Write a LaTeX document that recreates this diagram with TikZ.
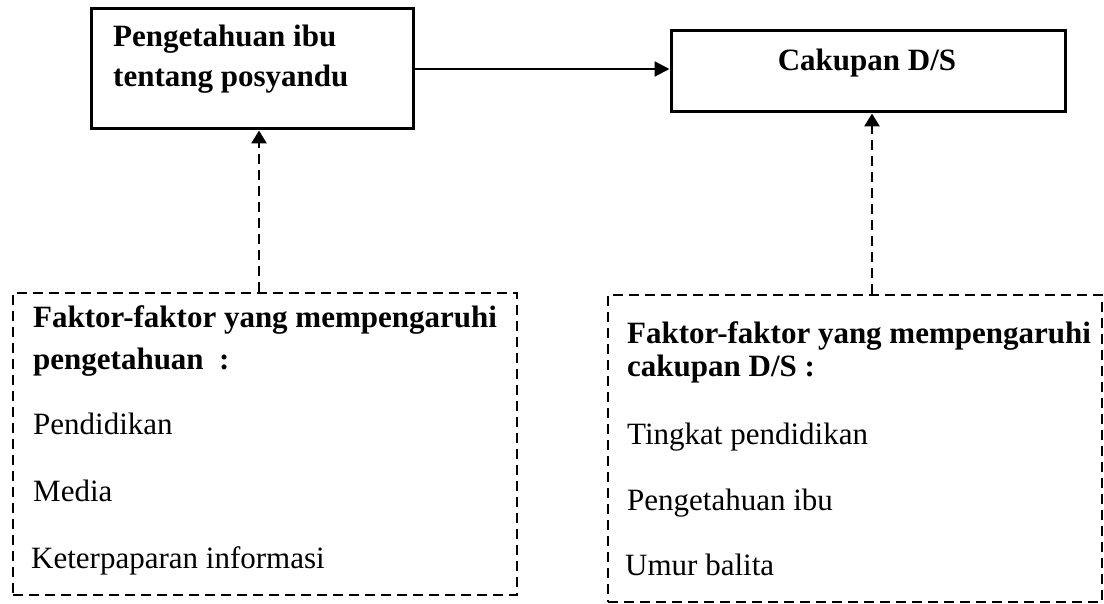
\documentclass[tikz,border=0pt]{standalone}
\usepackage{fontspec}
\setmainfont{Liberation Serif}
\usetikzlibrary{arrows.meta}
\begin{document}
\begin{tikzpicture}[x=1pt,y=-1pt,
  solidbox/.style={draw=black,line width=3pt,inner sep=0pt},
  dashbox/.style={draw=black,line width=2.8pt,dash pattern=on 10pt off 6pt,inner sep=0pt},
  txt/.style={anchor=base west,inner sep=0pt,font=\fontsize{31}{37}\selectfont},
  btxt/.style={txt,font=\fontsize{31}{37}\selectfont\bfseries},
  solidarrow/.style={line width=2.2pt,-{Triangle[length=15pt,width=15pt]}},
  dasharrow/.style={line width=2.8pt,dash pattern=on 10pt off 6pt,-{Triangle[length=13pt,width=15pt]}}
]
\useasboundingbox (0,0) rectangle (1104,604);
\fill[white] (0,0) rectangle (1104,604);

% solid boxes
\node[solidbox,minimum width=322pt,minimum height=120pt] (A) at (252,69) {};
\node[solidbox,minimum width=394pt,minimum height=81pt] (B) at (868,71.5) {};
% dashed boxes
\node[dashbox,minimum width=504pt,minimum height=302pt] (C) at (265,444) {};
\node[dashbox,minimum width=494pt,minimum height=307pt] (D) at (855,448.5) {};

% texts
\node[btxt] (a1) at (113,47) {Pengetahuan ibu};
\node[btxt] (a2) at (113,87) {tentang posyandu};
\node[btxt,anchor=base] (b1) at (867,71) {Cakupan D/S};

\node[btxt] (c1) at (33,327) {Faktor-faktor yang mempengaruhi};
\node[btxt] (c2) at (33,369) {pengetahuan~~:};
\node[txt] (c3) at (33,434) {Pendidikan};
\node[txt] (c4) at (33,501) {Media};
\node[txt] (c5) at (31,568) {Keterpaparan informasi};

\node[btxt] (d1) at (627,343) {Faktor-faktor yang mempengaruhi};
\node[btxt] (d2) at (627,377) {cakupan D/S :};
\node[txt] (d3) at (627,444) {Tingkat pendidikan};
\node[txt] (d4) at (627,510) {Pengetahuan ibu};
\node[txt] (d5) at (625,575) {Umur balita};

% connectors
\draw[solidarrow] (A.east) -- (A.east -| B.west);
\coordinate (ca) at (259,0);
\coordinate (cb) at (872,0);
\draw[dasharrow] (ca |- C.north) -- (ca |- A.south);
\draw[dasharrow] (cb |- D.north) -- (cb |- B.south);
\end{tikzpicture}
\end{document}
